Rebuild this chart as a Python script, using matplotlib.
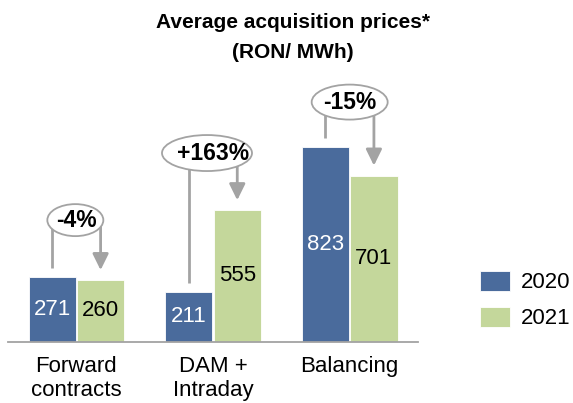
import matplotlib
matplotlib.use("Agg")
import matplotlib.pyplot as plt
from matplotlib.patches import Ellipse

# ---- data ----
categories = ["Forward\ncontracts", "DAM +\nIntraday", "Balancing"]
series_names = ["2020", "2021"]
values_2020 = [271, 211, 823]
values_2021 = [260, 555, 701]
change_labels = ["-4%", "+163%", "-15%"]

# ---- style / layout ----
plt.rcParams['font.family'] = ['Liberation Sans', 'DejaVu Sans']
color_2020 = "#4A6B9C"
color_2021 = "#C4D79B"
gray = "#A3A3A3"

W, H = 573, 403
px_per_unit = 0.237
fig = plt.figure(figsize=(W / 100, H / 100), dpi=100)
ax = fig.add_axes([8 / W, (H - 341.7) / H, 410 / W, 1100 * px_per_unit / H])
ax.set_xlim(-0.5, 2.5)
ax.set_ylim(0, 1100)

x = list(range(len(categories)))
bw = 0.345
off = 0.1775
b1 = ax.bar([i - off for i in x], values_2020, bw, color=color_2020,
            edgecolor="white", linewidth=0.6, label=series_names[0], zorder=2)
b2 = ax.bar([i + off for i in x], values_2021, bw, color=color_2021,
            edgecolor="white", linewidth=0.6, label=series_names[1], zorder=2)

ax.bar_label(b1, labels=[str(v) for v in values_2020], label_type="center",
             color="white", fontsize=16)
ax.bar_label(b2, labels=[str(v) for v in values_2021], label_type="center",
             color="black", fontsize=16)

# axes styling
for s in ["top", "right", "left"]:
    ax.spines[s].set_visible(False)
ax.spines["bottom"].set_color(gray)
ax.spines["bottom"].set_linewidth(1.3)
ax.set_yticks([])
ax.set_xticks(x)
ax.set_xticklabels(categories, fontsize=16, linespacing=1.2)
ax.tick_params(axis="x", length=0, pad=10.5)

# change bubbles (layout in pixels, converted to data units)
bubble_px_above = [242 * px_per_unit, 241 * px_per_unit, 188 * px_per_unit]
bubble_w_px = [56, 90, 76]
bubble_h_px = [32, 36, 35]
bubble_dx_px = [-1, -6, 0]
unit_px_x = 410 / 3.0
for i in x:
    top = max(values_2020[i], values_2021[i])
    cy = top + bubble_px_above[i] / px_per_unit
    # left line
    ax.plot([i - off, i - off], [cy, values_2020[i] + 38], color=gray,
            lw=2.0, solid_capstyle="butt", zorder=3, clip_on=False)
    # arrow
    ax.annotate("", xy=(i + off, values_2021[i] + 42), xytext=(i + off, cy),
                arrowprops=dict(arrowstyle="-|>,head_length=0.65,head_width=0.32",
                                mutation_scale=15, color=gray, lw=2.0,
                                shrinkA=0, shrinkB=0),
                zorder=3, annotation_clip=False)
    e = Ellipse((i + bubble_dx_px[i] / unit_px_x, cy),
                bubble_w_px[i] / unit_px_x, bubble_h_px[i] / px_per_unit,
                facecolor="white", edgecolor=gray, lw=1.3, zorder=4, clip_on=False)
    ax.add_patch(e)
    ax.text(i, cy, change_labels[i], ha="center", va="center", fontsize=16.5,
            fontweight="bold", zorder=5, clip_on=False)

# legend
ax.legend(handles=[b1, b2], labels=series_names, loc="upper left",
          bbox_to_anchor=(480 / W, (H - 271) / H), bbox_transform=fig.transFigure,
          frameon=False, fontsize=16, handlelength=1.35, handleheight=0.99,
          handletextpad=0.5, labelspacing=0.6, borderpad=0, borderaxespad=0)

# title
fig.text(293 / W, (H - 13) / H, "Average acquisition prices*\n(RON/ MWh)",
         ha="center", va="top", fontsize=15, fontweight="bold", linespacing=1.75)

fig.savefig("out.png", dpi=100)
